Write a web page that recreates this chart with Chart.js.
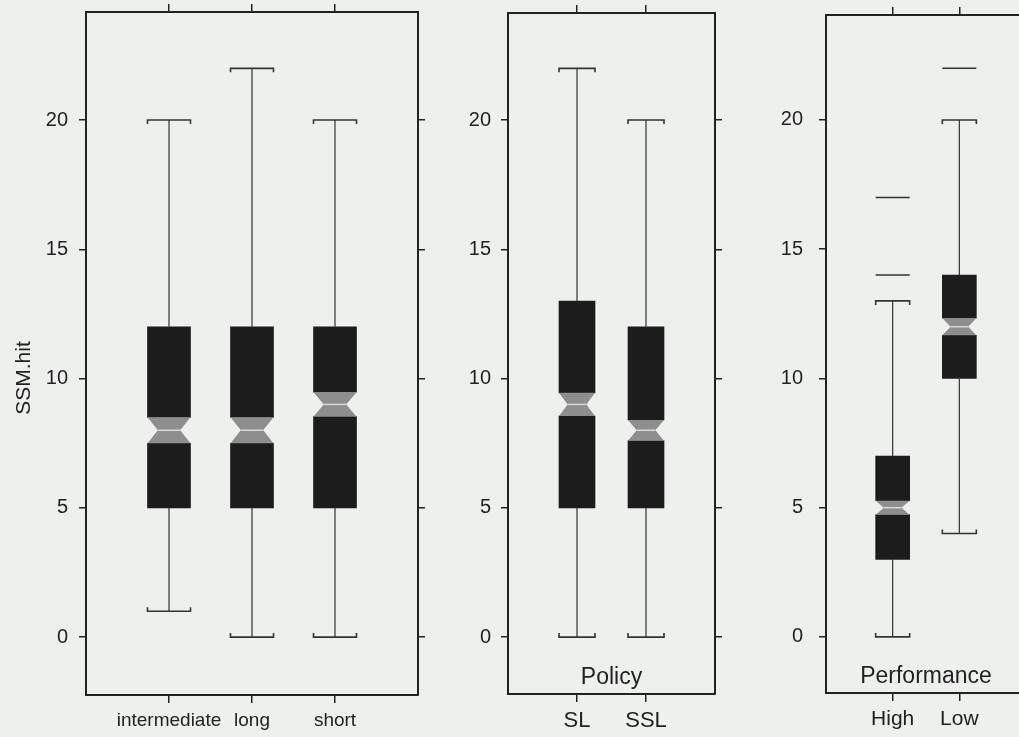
<!DOCTYPE html>
<html>
<head>
<meta charset="utf-8">
<script src="https://cdn.jsdelivr.net/npm/chart.js@4.4.0/dist/chart.umd.min.js"></script>
<style>
    html, body { margin: 0; padding: 0; background: #eef0ee; overflow: hidden; }
    body { width: 1019px; height: 737px; position: relative; }
    canvas { position: absolute; top: 0; }
</style>
</head>
<body>
<canvas id="c1" width="440" height="737" style="left:0px"></canvas>
<canvas id="c2" width="300" height="737" style="left:440px"></canvas>
<canvas id="c3" width="300" height="737" style="left:740px"></canvas>
<script>
// y axis
const yTicks = [0, 5, 10, 15, 20];

// panel 1: Length
const lengthCats = ['intermediate', 'long', 'short'];
const lengthLow = [1, 0, 0];
const lengthQ1 = [5, 5, 5];
const lengthMed = [8, 8, 9];
const lengthQ3 = [12, 12, 12];
const lengthHigh = [20, 22, 20];
const lengthNotch = [0.5, 0.5, 0.47];
const lengthOut = [[], [], []];

// panel 2: Policy
const policyCats = ['SL', 'SSL'];
const policyLow = [0, 0];
const policyQ1 = [5, 5];
const policyMed = [9, 8];
const policyQ3 = [13, 12];
const policyHigh = [22, 20];
const policyNotch = [0.45, 0.4];
const policyOut = [[], []];

// panel 3: Performance
const perfCats = ['High', 'Low'];
const perfLow = [0, 4];
const perfQ1 = [3, 10];
const perfMed = [5, 12];
const perfQ3 = [7, 14];
const perfHigh = [13, 20];
const perfNotch = [0.27, 0.33];
const perfOut = [[14, 17], [22]];

Chart.defaults.font.family = "'Liberation Sans', Arial, sans-serif";
Chart.defaults.color = '#222';

const ink = '#222';

// notches, whiskers, caps, outliers and the inner titles
const boxExtras = {
    id: 'boxExtras',
    afterDatasetsDraw(chart, args, o) {
        const {ctx, chartArea, scales: {x, y}} = chart;
        const half = o.boxWidth / 2;
        const waist = half * 0.52;
        const py = v => y.getPixelForValue(v);
        ctx.save();
        o.med.forEach((m, i) => {
            const cx = x.getPixelForValue(i + 1);
            const top = py(m + o.notch[i]);
            const mid = py(m);
            const bot = py(m - o.notch[i]);
            ctx.fillStyle = '#8e8e8e';
            ctx.beginPath();
            ctx.moveTo(cx - half, top);
            ctx.lineTo(cx + half, top);
            ctx.lineTo(cx + waist, mid);
            ctx.lineTo(cx + half, bot);
            ctx.lineTo(cx - half, bot);
            ctx.lineTo(cx - waist, mid);
            ctx.closePath();
            ctx.fill();
            ctx.strokeStyle = '#dadada';
            ctx.lineWidth = 1.5;
            ctx.beginPath();
            ctx.moveTo(cx - waist, mid);
            ctx.lineTo(cx + waist, mid);
            ctx.stroke();

            ctx.strokeStyle = '#333';
            ctx.lineWidth = 1.2;
            ctx.beginPath();
            ctx.moveTo(cx, py(o.q3[i]));
            ctx.lineTo(cx, py(o.high[i]));
            ctx.moveTo(cx, py(o.q1[i]));
            ctx.lineTo(cx, py(o.low[i]));
            ctx.stroke();

            ctx.lineWidth = 1.6;
            const hi = py(o.high[i]);
            const lo = py(o.low[i]);
            ctx.beginPath();
            ctx.moveTo(cx - half, hi + 4);
            ctx.lineTo(cx - half, hi);
            ctx.lineTo(cx + half, hi);
            ctx.lineTo(cx + half, hi + 4);
            ctx.moveTo(cx - half, lo - 4);
            ctx.lineTo(cx - half, lo);
            ctx.lineTo(cx + half, lo);
            ctx.lineTo(cx + half, lo - 4);
            ctx.stroke();

            o.out[i].forEach(v => {
                ctx.beginPath();
                ctx.moveTo(cx - half, py(v));
                ctx.lineTo(cx + half, py(v));
                ctx.stroke();
            });
        });
        ctx.fillStyle = ink;
        ctx.textAlign = 'center';
        ctx.textBaseline = 'middle';
        if (o.inner) {
            ctx.font = "23px 'Liberation Sans', Arial, sans-serif";
            ctx.fillText(o.inner, (chartArea.left + chartArea.right) / 2, chartArea.bottom - 16);
        }
        if (o.ylab) {
            ctx.font = "21px 'Liberation Sans', Arial, sans-serif";
            ctx.translate(24, 378);
            ctx.rotate(-Math.PI / 2);
            ctx.fillText(o.ylab, 0, 0);
        }
        ctx.restore();
    }
};

const noPad = s => {
    s.paddingTop = 0;
    s.paddingBottom = 0;
    s.paddingLeft = 0;
    s.paddingRight = 0;
}

const makePanel = (id, cats, low, q1, med, q3, high, notch, out, f) => {
    const sideGrid = {drawOnChartArea: false, tickLength: 7, color: ink, lineWidth: 1.5};
    const border = {display: true, color: ink, width: 2};
    const catTicks = s => { s.ticks = cats.map((c, i) => ({value: i + 1})) };
    const valTicks = s => { s.ticks = yTicks.map(v => ({value: v})) };
    new Chart(document.getElementById(id), {
        type: 'bar',
        data: {
            datasets: [
                {
                    data: cats.map((c, i) => ({x: i + 1, y: [med[i] + notch[i], q3[i]]})),
                    backgroundColor: '#1c1c1c',
                    barThickness: f.boxWidth,
                    grouped: false
                },
                {
                    data: cats.map((c, i) => ({x: i + 1, y: [q1[i], med[i] - notch[i]]})),
                    backgroundColor: '#1c1c1c',
                    barThickness: f.boxWidth,
                    grouped: false
                }
            ]
        },
        options: {
            responsive: false,
            animation: false,
            layout: {padding: 0},
            plugins: {
                legend: {display: false},
                tooltip: {enabled: false},
                boxExtras: {low, q1, med, q3, high, notch, out, boxWidth: f.boxWidth, inner: f.inner, ylab: f.ylab}
            },
            scales: {
                x: {
                    type: 'linear', position: 'bottom', min: 0, max: cats.length + 1, offset: false,
                    afterBuildTicks: catTicks,
                    afterFit: s => { s.height = 737 - f.bottom; noPad(s) },
                    ticks: {callback: v => cats[v - 1], font: {size: f.catSize}, padding: 6, maxRotation: 0, autoSkip: false},
                    grid: {offset: false, drawOnChartArea: false, tickLength: 8, color: ink, lineWidth: 1.5},
                    border
                },
                xTop: {
                    type: 'linear', position: 'top', min: 0, max: cats.length + 1, offset: false,
                    afterBuildTicks: catTicks,
                    afterFit: s => { s.height = f.top; noPad(s) },
                    ticks: {display: false},
                    grid: {offset: false, drawOnChartArea: false, tickLength: 8, color: ink, lineWidth: 1.5},
                    border
                },
                y: {
                    position: 'left', min: f.yMin, max: f.yMax,
                    afterBuildTicks: valTicks,
                    afterFit: s => { s.width = f.left; noPad(s) },
                    ticks: {font: {size: 20}, padding: f.tickPad},
                    grid: sideGrid,
                    border
                },
                yRight: {
                    position: 'right', min: f.yMin, max: f.yMax,
                    afterBuildTicks: valTicks,
                    afterFit: s => { s.width = f.right; noPad(s) },
                    ticks: {display: false},
                    grid: sideGrid,
                    border
                }
            }
        },
        plugins: [boxExtras]
    });
}

makePanel('c1', lengthCats, lengthLow, lengthQ1, lengthMed, lengthQ3, lengthHigh, lengthNotch, lengthOut,
    {left: 86, right: 22, top: 12, bottom: 695, yMin: -2.24, yMax: 24.18, boxWidth: 43, catSize: 19, tickPad: 11, ylab: 'SSM.hit'});
makePanel('c2', policyCats, policyLow, policyQ1, policyMed, policyQ3, policyHigh, policyNotch, policyOut,
    {left: 68, right: 25, top: 13, bottom: 694, yMin: -2.2, yMax: 24.14, boxWidth: 36, catSize: 22, tickPad: 10, inner: 'Policy'});
makePanel('c3', perfCats, perfLow, perfQ1, perfMed, perfQ3, perfHigh, perfNotch, perfOut,
    {left: 86, right: 14, top: 15, bottom: 693, yMin: -2.17, yMax: 24.06, boxWidth: 34, catSize: 21, tickPad: 16, inner: 'Performance'});
</script>
</body>
</html>
